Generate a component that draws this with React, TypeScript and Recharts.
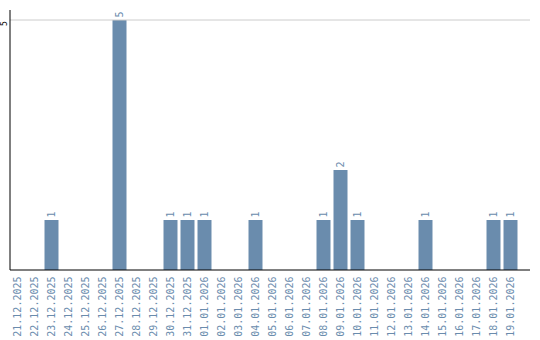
import { BarChart, Bar, XAxis, YAxis, ReferenceLine, LabelList } from 'recharts';

const dates = [
  '21.12.2025', '22.12.2025', '23.12.2025', '24.12.2025', '25.12.2025', '26.12.2025',
  '27.12.2025', '28.12.2025', '29.12.2025', '30.12.2025', '31.12.2025', '01.01.2026',
  '02.01.2026', '03.01.2026', '04.01.2026', '05.01.2026', '06.01.2026', '07.01.2026',
  '08.01.2026', '09.01.2026', '10.01.2026', '11.01.2026', '12.01.2026', '13.01.2026',
  '14.01.2026', '15.01.2026', '16.01.2026', '17.01.2026', '18.01.2026', '19.01.2026',
];
const counts = [0, 0, 1, 0, 0, 0, 5, 0, 0, 1, 1, 1, 0, 0, 1, 0, 0, 0, 1, 2, 1, 0, 0, 0, 1, 0, 0, 0, 1, 1];
const yTicks = [5];

const data = dates.map((d, i) => ({ date: d, count: counts[i] }));

const BLUE = '#6a8cad';
const FONT = '"DejaVu Sans Mono", monospace';

function DateTick(props: any) {
  const { x, y, payload } = props;
  const ty = y + 6.5;
  return (
    <text
      x={x}
      y={ty}
      dy={3.5}
      transform={`rotate(-90 ${x} ${ty})`}
      textAnchor="end"
      fill={BLUE}
      fontSize={10}
      fontFamily={FONT}
    >
      {payload.value}
    </text>
  );
}

function CountTick(props: any) {
  const { y, payload } = props;
  const tx = 6.5;
  const ty = y + 3.5;
  return (
    <text
      x={tx}
      y={ty}
      transform={`rotate(-90 ${tx} ${ty})`}
      textAnchor="middle"
      fill="#000"
      fontSize={8}
      fontFamily={FONT}
    >
      {payload.value}
    </text>
  );
}

function ValueLabel(props: any) {
  const { x, y, width, value } = props;
  if (!value) return null;
  const cx = x + width / 2;
  const ty = y - 2.5;
  return (
    <text
      x={cx}
      y={ty}
      dy={3.5}
      transform={`rotate(-90 ${cx} ${ty})`}
      textAnchor="start"
      fill={BLUE}
      fontSize={10}
      fontFamily={FONT}
    >
      {value}
    </text>
  );
}

export default function App() {
  return (
    <div style={{ position: 'absolute', left: 0, top: 0 }}>
      <BarChart width={540} height={340} data={data} margin={{ top: 10, right: 10, bottom: 0, left: 0 }}>
        <ReferenceLine y={5} stroke="#cccccc" />
        <XAxis
          dataKey="date"
          interval={0}
          height={70}
          tick={<DateTick />}
          tickLine={false}
          tickSize={0}
          tickMargin={0}
          padding={{ left: -1.5, right: 11.5 }}
          axisLine={{ stroke: '#000', strokeWidth: 1 }}
        />
        <YAxis
          width={10}
          domain={[0, 5.2]}
          ticks={yTicks}
          tick={<CountTick />}
          tickLine={false}
          axisLine={{ stroke: '#000', strokeWidth: 1 }}
        />
        <Bar dataKey="count" fill={BLUE} barSize={14} isAnimationActive={false}>
          <LabelList dataKey="count" content={<ValueLabel />} />
        </Bar>
      </BarChart>
    </div>
  );
}
